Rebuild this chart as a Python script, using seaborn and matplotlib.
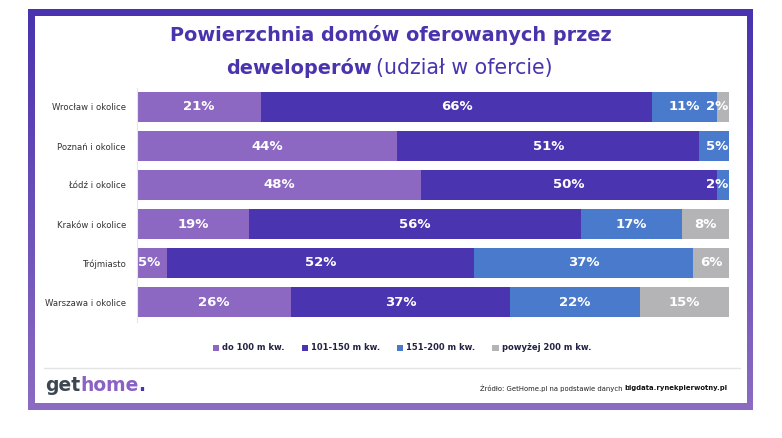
import numpy as np
import pandas as pd
import matplotlib
matplotlib.use("Agg")
import matplotlib.pyplot as plt
from matplotlib.patches import Patch, Rectangle
import seaborn as sns

# dane
cities = ["Wrocław i okolice", "Poznań i okolice", "Łódź i okolice",
          "Kraków i okolice", "Trójmiasto", "Warszawa i okolice"]
series_names = ["do 100 m kw.", "101-150 m kw.", "151-200 m kw.", "powyżej 200 m kw."]
do_100 = [21, 44, 48, 19, 5, 26]
s_101_150 = [66, 51, 50, 56, 52, 37]
s_151_200 = [11, 5, 2, 17, 37, 22]
pow_200 = [2, 0, 0, 8, 6, 15]

colors = ["#8c68c2", "#4a34b0", "#4a7acb", "#b4b4b6"]
INDIGO = "#4a34ad"
W, H = 782, 438

sns.set_theme(style="white")
plt.rcParams["font.family"] = ["DejaVu Sans"]

df = pd.DataFrame({"city": cities, "s0": do_100, "s1": s_101_150,
                   "s2": s_151_200, "s3": pow_200})
vals = df[["s0", "s1", "s2", "s3"]].to_numpy()
cum = vals.cumsum(axis=1)
for i in range(4):
    df[f"c{i}"] = cum[:, i]

fig = plt.figure(figsize=(W / 100, H / 100), dpi=100)
renderer = fig.canvas.get_renderer()


def text_row(parts, x, y, width=None, va="center", kern=None):
    """Tekst z kilku kawalkow o roznym stylu, w pikselach; opcjonalnie dopasowany do szerokosci"""
    scale = 1.0
    if width is not None:
        total = 0
        for s, kw in parts:
            t = fig.text(0, 0, s, **kw)
            total += t.get_window_extent(renderer).width
            t.remove()
        scale = width / total
    kern = kern or [0] * len(parts)
    for (s, kw), k in zip(parts, kern):
        kw = dict(kw)
        kw["fontsize"] = kw["fontsize"] * scale
        x += k
        a = fig.text(x / W, 1 - y / H, s, ha="left", va=va, **kw)
        x += a.get_window_extent(renderer).width
    return scale


# tlo / ramka z gradientem
bg = fig.add_axes([0, 0, 1, 1], zorder=0)
bg.set_xlim(0, W)
bg.set_ylim(H, 0)
bg.axis("off")
grad = np.linspace(0, 1, 200).reshape(-1, 1)
cmap = matplotlib.colors.LinearSegmentedColormap.from_list("frame", ["#4933ae", "#8b6cc2"])
bg.imshow(grad, cmap=cmap, extent=(28, 753, 410, 9), aspect="auto")
bg.add_patch(Rectangle((34.5, 15.5), 712.5, 387.5, facecolor="white", edgecolor="none"))
bg.plot([44, 740], [368, 368], color="#e4e4e4", lw=1)

# wykres
ax = fig.add_axes([137 / W, 1 - 321.5 / H, 592 / W, 234 / H], zorder=1)
ax.patch.set_alpha(0)
for i in range(3, -1, -1):
    sns.barplot(data=df, x=f"c{i}", y="city", orient="h", color=colors[i],
                saturation=1, width=0.77, linewidth=0, ax=ax)

for r in range(len(cities)):
    start = 0
    for i in range(4):
        v = vals[r, i]
        end = start + v
        if v > 0:
            if v <= 5 and start == 0:
                x, ha = start + 0.2, "left"
            elif v <= 5 and end >= 99:
                x, ha = end - 0.2, "right"
            else:
                x, ha = (start + end) / 2, "center"
            ax.text(x, r, f"{v}%", ha=ha, va="center", color="white",
                    fontsize=9.5, fontweight="bold")
        start = end

ax.set_xlim(0, 100)
ax.set_ylim(5.5, -0.5)
ax.set_xlabel("")
ax.set_ylabel("")
ax.set_xticks([])
for s in ["top", "right", "bottom"]:
    ax.spines[s].set_visible(False)
ax.spines["left"].set_color("#e6e6e6")
ax.spines["left"].set_linewidth(0.8)
ax.tick_params(axis="y", which="major", length=0, pad=8, labelsize=6.1, labelcolor="#333333")
ax.set_yticks(np.arange(-0.5, 6, 1), minor=True)
ax.tick_params(axis="y", which="minor", length=4, color="#e6e6e6", width=0.8)

# legenda
handles = [Patch(facecolor=c, edgecolor="none") for c in colors]
leg = fig.legend(handles, series_names, loc="center", bbox_to_anchor=(402 / W, 1 - 348 / H),
                 ncol=4, frameon=False, handlelength=0.75, handleheight=0.75,
                 handletextpad=0.4, columnspacing=2.0,
                 prop={"size": 6.0, "weight": "bold"})
for t in leg.get_texts():
    t.set_color("#222244")

# tytul
bold_t = {"fontsize": 14, "fontweight": "bold", "color": INDIGO}
reg_t = {"fontsize": 14, "color": INDIGO}
sc = text_row([("Powierzchnia domów oferowanych przez", bold_t)], 170, 35, width=441)
text_row([("deweloperów", dict(bold_t, fontsize=14 * sc))], 226, 68)
text_row([("(udział w ofercie)", reg_t)], 376, 68, width=178)

# logo
logo_kw = {"fontsize": 15, "fontweight": "bold"}
text_row([("get", dict(logo_kw, color="#3c4752")),
          ("home", dict(logo_kw, color="#8a62c4")),
          (".", dict(logo_kw, color=INDIGO))], 45, 391, width=101, va="baseline")

# zrodlo
text_row([("Źródło: GetHome.pl na podstawie danych ", {"fontsize": 6, "color": "#222222"}),
          ("bigdata.rynekpierwotny.pl", {"fontsize": 6, "fontweight": "bold", "color": "#111111"})],
         480, 388, width=253)

fig.savefig("out.png", dpi=100)
